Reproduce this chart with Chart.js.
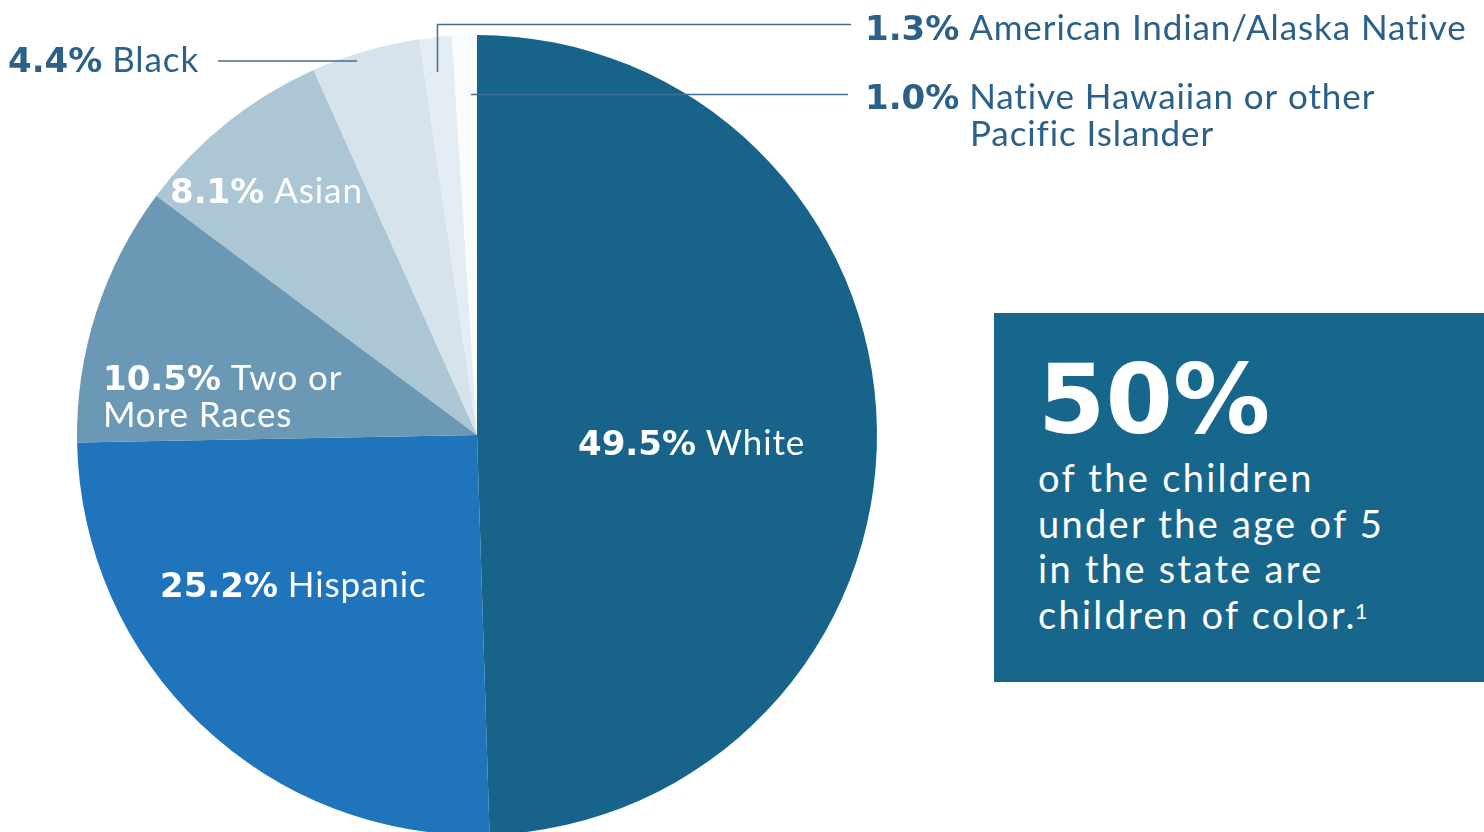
<!DOCTYPE html>
<html>
<head>
<meta charset="utf-8">
<script src="https://cdn.jsdelivr.net/npm/chart.js@4.4.0/dist/chart.umd.min.js"></script>
<style>
  body{margin:0;background:#fff;overflow:hidden;width:1484px;height:832px;position:relative;}
  #wrap{position:absolute;left:0;top:0;width:1484px;height:840px;}
  #box{position:absolute;left:994px;top:313px;width:490px;height:369px;background:#17668c;color:#fff;}
  #big{position:absolute;left:44px;top:32px;font-family:"DejaVu Sans";font-weight:bold;font-size:97px;line-height:110px;letter-spacing:0px;}
  #txt{position:absolute;left:44px;top:142px;font-family:Lato,"Noto Sans",sans-serif;font-size:38px;line-height:45.5px;letter-spacing:2.3px;}
  #txt sup{font-size:22px;vertical-align:top;position:relative;top:-4px;letter-spacing:0;margin-left:-2px;}
</style>
</head>
<body>
<div id="wrap"><canvas id="myChart"></canvas></div>
<div id="box">
  <div id="big">50%</div>
  <div id="txt">of the children<br>under the age of 5<br>in the state are<br>children of color.<sup>1</sup></div>
</div>
<script>
// share of children under 5 by race/ethnicity
const groups=["White","Hispanic","Two or More Races","Asian","Black","American Indian/Alaska Native","Native Hawaiian or other Pacific Islander"];
const shares=[49.5,25.2,10.5,8.1,4.4,1.3,1.0];
const colors=["#17638a","#1f74bb","#6b99b5","#abc6d4","#d6e3ec","#e5edf4","#f9fbfc"];

const dark="#2b6088";
// label text: [percent, name lines, x, y, color]
const labels=[
  ["49.5%",["White"],578,455,"#fff"],
  ["25.2%",["Hispanic"],160,597,"#fff"],
  ["10.5%",["Two or","More Races"],103,390,"#fff"],
  ["8.1%",["Asian"],170,203,"#fff"],
  ["4.4%",["Black"],8,72,dark],
  ["1.3%",["American Indian/Alaska Native"],865,40,dark],
  ["1.0%",["Native Hawaiian or other","Pacific Islander"],865,109,dark]
];

const labelPlugin={
  id:"labelPlugin",
  afterDraw(chart){
    const c=chart.ctx;
    c.save();
    // leader lines
    c.strokeStyle="#3f6f92";
    c.lineWidth=1.5;
    c.beginPath();
    c.moveTo(218,61);c.lineTo(357,61);
    c.moveTo(437.5,72);c.lineTo(437.5,24.5);c.lineTo(851,24.5);
    c.moveTo(471,94.5);c.lineTo(848,94.5);
    c.stroke();
    c.textBaseline="alphabetic";
    labels.forEach(l=>{
      c.fillStyle=l[4];
      c.letterSpacing="0px";
      c.font="bold 34px 'DejaVu Sans'";
      c.fillText(l[0],l[2],l[3]);
      let w=c.measureText(l[0]).width;
      c.font="35px Lato, 'Noto Sans', sans-serif";
      c.letterSpacing="0.9px";
      c.fillText(" "+l[1][0],l[2]+w,l[3]);
      if(l[1][1]){
        let x2=l[0]=="1.0%" ? 970 : l[2];
        c.fillText(l[1][1],x2,l[3]+37);
      }
    });
    c.restore();
  }
};

const ctx=document.getElementById("myChart");
new Chart(ctx,{
  type:"pie",
  data:{
    labels:groups,
    datasets:[{data:shares,backgroundColor:colors,borderWidth:0}]
  },
  options:{
    responsive:true,
    maintainAspectRatio:false,
    animation:false,
    layout:{padding:{left:77,right:607,top:35,bottom:5}},
    plugins:{legend:{display:false},tooltip:{enabled:false}}
  },
  plugins:[labelPlugin]
});
</script>
</body>
</html>
